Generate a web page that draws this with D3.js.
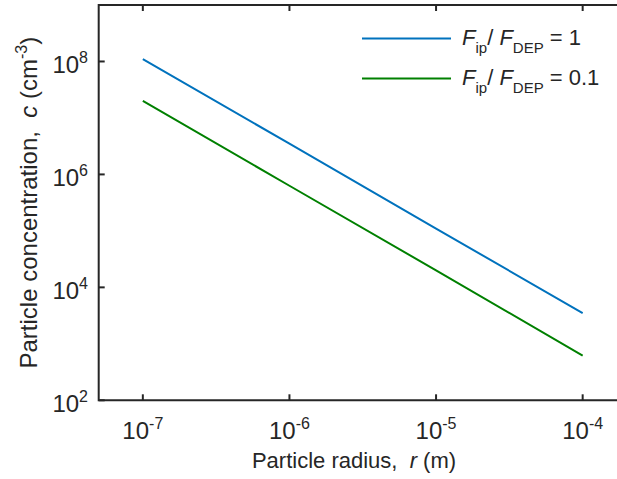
<!DOCTYPE html>
<html>
<head>
<meta charset="utf-8">
<script src="https://cdn.jsdelivr.net/npm/d3@7"></script>
<style>
  html, body { margin: 0; padding: 0; background: #fff; }
  svg { display: block; font-family: "Liberation Sans", Arial, Helvetica, sans-serif; }
  svg text { white-space: pre; }
</style>
</head>
<body>
<svg id="chart" width="617" height="479"></svg>
<script>
// Particle radius (m) at each decade
const radius = [1e-7, 1e-6, 1e-5, 1e-4];
// Particle concentration (cm^-3) for each force ratio
const concRatio1 = [1.1e8, 3.5e6, 1.1e5, 3.5e3];
const concRatio01 = [2.0e7, 6.3e5, 2.0e4, 6.2e2];
const seriesNames = ["1", "0.1"];
const seriesColors = ["#0072BD", "#008000"];
const xTicks = [1e-7, 1e-6, 1e-5, 1e-4];
const yTicks = [1e2, 1e4, 1e6, 1e8];

const svg = d3.select("#chart");
const plotL = 98.7, plotT = 5, plotB = 400.3, plotR = 626.8;

const x = d3.scaleLog().domain([5e-8, 2e-4]).range([plotL, plotR]);
const y = d3.scaleLog().domain([1e2, 1e9]).range([plotB, plotT]);

const axisColor = "#262626";
const tickFs = 24, expFs = 16;

// plot lines
const series = [concRatio1, concRatio01];
const line = d3.line().x(d => x(d[0])).y(d => y(d[1]));
series.forEach((vals, i) => {
  svg.append("path")
    .datum(radius.map((r, k) => [r, vals[k]]))
    .attr("d", line)
    .attr("fill", "none")
    .attr("stroke", seriesColors[i])
    .attr("stroke-width", 2);
});

// axes box (left, top, bottom) with inward ticks
const tickLen = 6;
const g = svg.append("g").attr("stroke", axisColor).attr("stroke-width", 2).attr("fill", "none");
g.append("path").attr("d", `M${plotR},${plotT}H${plotL}V${plotB}H${plotR}`);
xTicks.forEach(t => {
  g.append("line").attr("x1", x(t)).attr("x2", x(t)).attr("y1", plotB).attr("y2", plotB - tickLen);
  g.append("line").attr("x1", x(t)).attr("x2", x(t)).attr("y1", plotT).attr("y2", plotT + tickLen);
});
yTicks.forEach(t => {
  g.append("line").attr("x1", plotL).attr("x2", plotL + tickLen).attr("y1", y(t)).attr("y2", y(t));
});

const exp10 = v => Math.round(Math.log10(v));

// x tick labels
xTicks.forEach(t => {
  const tx = svg.append("text")
    .attr("x", x(t)).attr("y", 439)
    .attr("text-anchor", "middle")
    .attr("font-size", tickFs).attr("fill", axisColor);
  tx.append("tspan").text("10");
  tx.append("tspan").attr("dy", -10.5).attr("font-size", expFs).text(exp10(t));
});

// y tick labels
yTicks.forEach(t => {
  const ty = svg.append("text")
    .attr("x", 88).attr("y", y(t) + 12)
    .attr("text-anchor", "end")
    .attr("font-size", tickFs).attr("fill", axisColor);
  ty.append("tspan").text("10");
  ty.append("tspan").attr("dy", -10.5).attr("font-size", expFs).text(exp10(t));
});

// axis titles
const xt = svg.append("text")
  .attr("x", 354).attr("y", 468)
  .attr("text-anchor", "middle")
  .attr("font-size", 22).attr("fill", axisColor);
xt.append("tspan").text("Particle radius,  ");
xt.append("tspan").attr("font-style", "italic").text("r");
xt.append("tspan").text(" (m)");

const yt = svg.append("text")
  .attr("transform", `translate(37,${(plotT + plotB) / 2}) rotate(-90)`)
  .attr("text-anchor", "middle")
  .attr("font-size", 24).attr("fill", axisColor);
yt.append("tspan").text("Particle concentration,  ");
yt.append("tspan").attr("font-style", "italic").text("c");
yt.append("tspan").text(" (cm");
yt.append("tspan").attr("dy", -10).attr("font-size", 16).text("-3");
yt.append("tspan").attr("dy", 10).text(")");

// legend
const legY = [38.5, 78.5];
seriesNames.forEach((name, i) => {
  svg.append("line")
    .attr("x1", 362).attr("x2", 451)
    .attr("y1", legY[i]).attr("y2", legY[i])
    .attr("stroke", seriesColors[i]).attr("stroke-width", 2);
  const lt = svg.append("text")
    .attr("x", 462).attr("y", legY[i] + 6)
    .attr("font-size", 22).attr("fill", axisColor);
  lt.append("tspan").attr("font-style", "italic").text("F");
  lt.append("tspan").attr("dy", 8).attr("font-size", 15).text("ip");
  lt.append("tspan").attr("dy", -8).text("/ ");
  lt.append("tspan").attr("font-style", "italic").text("F");
  lt.append("tspan").attr("dy", 8).attr("font-size", 15).text("DEP");
  lt.append("tspan").attr("dy", -8).text(" = " + name);
});
</script>
</body>
</html>
